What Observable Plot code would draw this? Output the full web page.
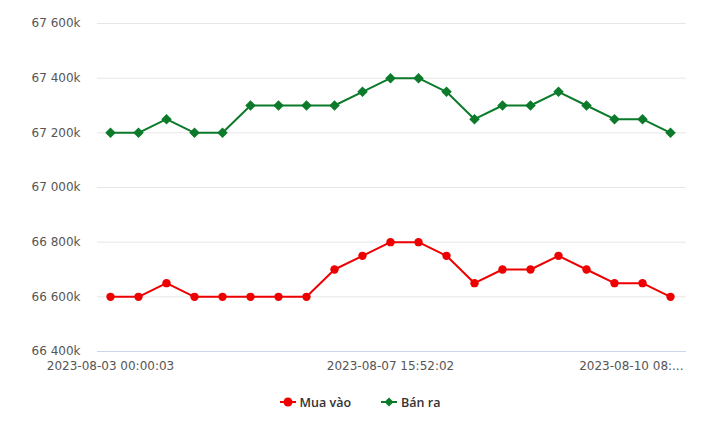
<!DOCTYPE html>
<html>
<head>
<meta charset="utf-8">
<script src="https://cdn.jsdelivr.net/npm/d3@7"></script>
<script src="https://cdn.jsdelivr.net/npm/@observablehq/plot@0.6"></script>
<style>
  body { margin: 0; background: #fff; font-family: "DejaVu Sans", sans-serif; }
  #legend { display: flex; justify-content: center; gap: 30px; height: 38px; align-items: center; font-family: "Open Sans", sans-serif; font-size: 12.5px; font-weight: 600; color: #333; margin-top: -2px;}
  .item { display: flex; align-items: center; gap: 4px; }
</style>
</head>
<body>
<div id="chart"></div>
<div id="legend"></div>
<script>
const seriesNames = ["Mua vào", "Bán ra"];
const seriesColors = ["#ee0000", "#0b7a2b"];
const muaVao = [66600, 66600, 66650, 66600, 66600, 66600, 66600, 66600, 66700, 66750, 66800, 66800, 66750, 66650, 66700, 66700, 66750, 66700, 66650, 66650, 66600];
const banRa  = [67200, 67200, 67250, 67200, 67200, 67300, 67300, 67300, 67300, 67350, 67400, 67400, 67350, 67250, 67300, 67300, 67350, 67300, 67250, 67250, 67200];
const tickIndex = [0, 10, 20];
const tickLabels = ["2023-08-03 00:00:03", "2023-08-07 15:52:02", "2023-08-10 08:..."];
const yTicks = [66400, 66600, 66800, 67000, 67200, 67400, 67600];

const idx = d3.range(muaVao.length);
const data = [
  ...muaVao.map((v, i) => ({i, v, s: seriesNames[0]})),
  ...banRa.map((v, i) => ({i, v, s: seriesNames[1]}))
];
const fmtY = v => d3.format(",")(v).replace(/,/g, " ") + "k";
const labelOf = i => tickLabels[tickIndex.indexOf(i)];

const chart = Plot.plot({
  width: 720,
  height: 385,
  marginTop: 23,
  marginBottom: 34,
  marginLeft: 97,
  marginRight: 34,
  style: {fontFamily: "DejaVu Sans, sans-serif", fontSize: "12px", color: "#555"},
  x: {type: "point", domain: idx, range: [110, 670], padding: 0},
  y: {domain: [66400, 67600]},
  color: {domain: seriesNames, range: seriesColors},
  marks: [
    Plot.gridY(yTicks, {stroke: "#e6e6e6", strokeOpacity: 1}),
    Plot.ruleY([66400], {stroke: "#ccd6eb"}),
    Plot.axisY(yTicks, {tickSize: 0, tickPadding: 17, tickFormat: fmtY, label: null, fill: "#555"}),
    Plot.axisX(tickIndex.slice(0, 2), {tickSize: 0, tickPadding: 10, tickFormat: labelOf, label: null, fill: "#555"}),
    Plot.axisX(tickIndex.slice(2), {tickSize: 0, tickPadding: 10, tickFormat: labelOf, label: null, fill: "#555", textAnchor: "end", dx: 13}),
    Plot.line(data, {x: "i", y: "v", z: "s", stroke: "s", strokeWidth: 2}),
    Plot.dot(data.filter(d => d.s === seriesNames[0]), {x: "i", y: "v", fill: seriesColors[0], r: 4.2, symbol: "circle"}),
    Plot.dot(data.filter(d => d.s === seriesNames[1]), {x: "i", y: "v", fill: seriesColors[1], r: 4.2, symbol: "square", rotate: 45})
  ]
});
document.getElementById("chart").appendChild(chart);

const legend = document.getElementById("legend");
seriesNames.forEach((name, k) => {
  const item = document.createElement("div");
  item.className = "item";
  const sym = k === 0
    ? `<circle cx="8" cy="6" r="4.5" fill="${seriesColors[k]}"/>`
    : `<path d="M8 1.5 L12.5 6 L8 10.5 L3.5 6 Z" fill="${seriesColors[k]}"/>`;
  item.innerHTML = `<svg width="16" height="12"><line x1="0" y1="6" x2="16" y2="6" stroke="${seriesColors[k]}" stroke-width="2"/>${sym}</svg><span>${name}</span>`;
  legend.appendChild(item);
});
</script>
</body>
</html>
